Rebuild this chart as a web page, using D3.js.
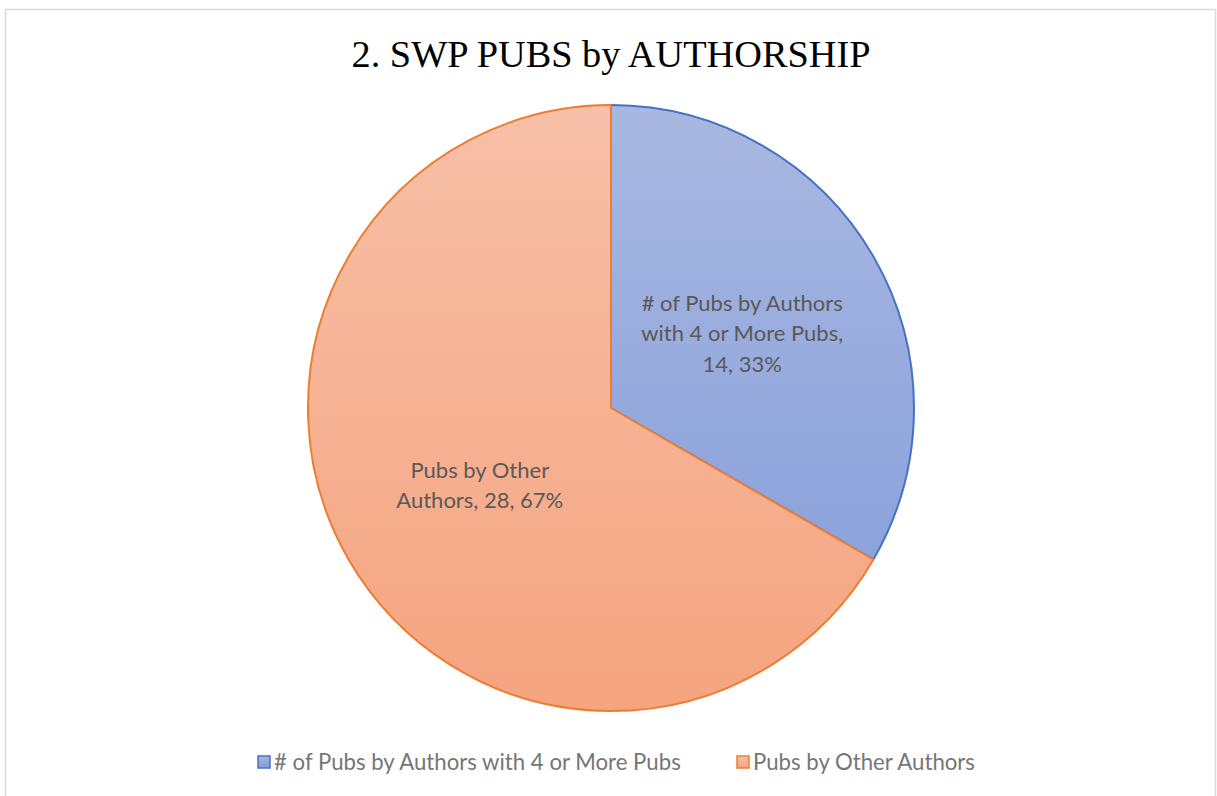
<!DOCTYPE html>
<html>
<meta charset="utf-8">
<head>
<title>SWP PUBS by AUTHORSHIP</title>
<style>
  body { margin: 0; background: #fff; }
  .title { font-family: "Liberation Serif", "Times New Roman", serif; font-size: 38.3px; fill: #000; }
  .lbl { font-family: "Lato", "Open Sans", sans-serif; font-size: 22px; fill: #595959; }
  .legend text { font-family: "Lato", "Open Sans", sans-serif; font-size: 22.2px; fill: #767676; }
</style>
</head>
<body>
<script src="https://cdn.jsdelivr.net/npm/d3@7"></script>
<script>

var categories = ["# of Pubs by Authors with 4 or More Pubs", "Pubs by Other Authors"];
var values = [14, 28];
var percents = ["33%", "67%"];
var labelLines = [
  ["# of Pubs by Authors", "with 4 or More Pubs,", "14, 33%"],
  ["Pubs by Other", "Authors, 28, 67%"]
];

var width = 1217, height = 796;
var cx = 611, cy = 408, radius = 303;

var strokes = ["#4472c4", "#ed7d31"];
var gradTop = ["#a9b8e1", "#f7c0a8"];
var gradBottom = ["#819bd9", "#f5a47f"];

var svg = d3.select("body").append("svg")
    .attr("width", width)
    .attr("height", height);

// chart border
svg.append("rect")
    .attr("x", 5.5).attr("y", 9.5)
    .attr("width", 1210).attr("height", 800)
    .attr("fill", "#fff")
    .attr("stroke", "#d9d9d9")
    .attr("stroke-width", 1.5);

svg.append("text")
    .attr("class", "title")
    .attr("x", cx).attr("y", 67)
    .attr("text-anchor", "middle")
    .text("2. SWP PUBS by AUTHORSHIP");

// gradients: one in the pie's local space, one for legend swatches
var defs = svg.append("defs");
categories.forEach(function(c, i) {
  var g = defs.append("linearGradient")
      .attr("id", "grad" + i)
      .attr("gradientUnits", "userSpaceOnUse")
      .attr("x1", 0).attr("y1", -radius)
      .attr("x2", 0).attr("y2", radius);
  g.append("stop").attr("offset", "0%").attr("stop-color", gradTop[i]);
  g.append("stop").attr("offset", "100%").attr("stop-color", gradBottom[i]);

  var lg = defs.append("linearGradient")
      .attr("id", "lgrad" + i)
      .attr("x1", 0).attr("y1", 0)
      .attr("x2", 0).attr("y2", 1);
  lg.append("stop").attr("offset", "0%").attr("stop-color", gradTop[i]);
  lg.append("stop").attr("offset", "100%").attr("stop-color", gradBottom[i]);
});

var pie = d3.pie().sort(null).value(function(d) { return d; });
var arcs = pie(values);

var arc = d3.arc().innerRadius(0).outerRadius(radius);

var g = svg.append("g").attr("transform", "translate(" + cx + "," + cy + ")");

g.selectAll("path.slice")
  .data(arcs)
  .enter().append("path")
    .attr("class", "slice")
    .attr("d", arc)
    .attr("fill", function(d, i) { return "url(#grad" + i + ")"; })
    .attr("stroke", function(d, i) { return strokes[i]; })
    .attr("stroke-width", 2)
    .attr("stroke-linejoin", "round");

// data labels
var labelArc = d3.arc().innerRadius(radius * 0.5).outerRadius(radius * 0.5);
var lineH = 30.5;
g.selectAll("text.lbl")
  .data(arcs)
  .enter().append("text")
    .attr("class", "lbl")
    .attr("text-anchor", "middle")
    .each(function(d, i) {
      var c = labelArc.centroid(d);
      var lines = labelLines[i];
      var t = d3.select(this);
      lines.forEach(function(l, k) {
        t.append("tspan")
          .attr("x", c[0])
          .attr("y", c[1] + (k - (lines.length - 1) / 2) * lineH + 9)
          .text(l);
      });
    });

// legend
var legendX = [258, 737];
var leg = svg.append("g").attr("class", "legend");
categories.forEach(function(c, i) {
  leg.append("rect")
    .attr("x", legendX[i]).attr("y", 756)
    .attr("width", 12).attr("height", 12)
    .attr("fill", "url(#lgrad" + i + ")")
    .attr("stroke", strokes[i])
    .attr("stroke-width", 1.5);
  leg.append("text")
    .attr("x", legendX[i] + 16).attr("y", 770)
    .text(c);
});

</script>
</body>
</html>
